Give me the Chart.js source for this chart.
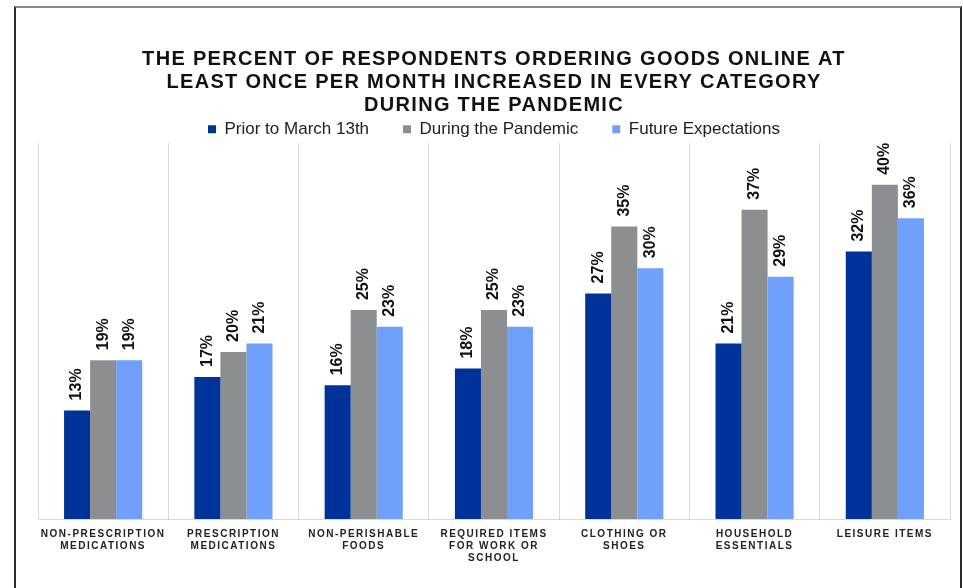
<!DOCTYPE html>
<html>
<head>
<meta charset="utf-8">
<script src="https://cdn.jsdelivr.net/npm/chart.js@4.4.0/dist/chart.umd.min.js"></script>
<style>
  html, body { margin: 0; padding: 0; background: #ffffff; width: 963px; height: 588px; overflow: hidden; }
  #frame { position: absolute; left: 14px; top: 6px; width: 944px; height: 700px;
           border-left: 2px solid #2b2b2b; border-right: 2px solid #2b2b2b; border-top: 2px solid #8a8a8a; }
  #c { position: absolute; left: 0; top: 0; }
</style>
</head>
<body>
<div id="frame"></div>
<canvas id="c" width="963" height="588"></canvas>
<script>
const categories = [
  ["NON-PRESCRIPTION", "MEDICATIONS"],
  ["PRESCRIPTION", "MEDICATIONS"],
  ["NON-PERISHABLE", "FOODS"],
  ["REQUIRED ITEMS", "FOR WORK OR", "SCHOOL"],
  ["CLOTHING OR", "SHOES"],
  ["HOUSEHOLD", "ESSENTIALS"],
  ["LEISURE ITEMS"]
];
const seriesNames = ["Prior to March 13th", "During the Pandemic", "Future Expectations"];
const priorValues = [13, 17, 16, 18, 27, 21, 32];
const duringValues = [19, 20, 25, 25, 35, 37, 40];
const futureValues = [19, 21, 23, 23, 30, 29, 36];
const titleLines = [
  "THE PERCENT OF RESPONDENTS ORDERING GOODS ONLINE AT",
  "LEAST ONCE PER MONTH INCREASED IN EVERY CATEGORY",
  "DURING THE PANDEMIC"
];
const colors = ["#003399", "#8c8f92", "#70a0fc"];

const spacingPlugin = {
  id: 'spacing',
  afterLayout(chart) {
    const wrap = (obj, name, sp) => {
      if (!obj || obj['__w_' + name]) return;
      const orig = obj[name];
      obj[name] = function (...args) {
        const c = chart.ctx;
        c.save();
        c.letterSpacing = sp;
        const r = orig.apply(this, args);
        c.restore();
        return r;
      };
      obj['__w_' + name] = true;
    };
    wrap(chart.titleBlock, 'draw', '1.3px');
    wrap(chart.scales.x, 'drawLabels', '1.5px');
  }
};

const valueLabels = {
  id: 'valueLabels',
  afterDatasetsDraw(chart) {
    const ctx = chart.ctx;
    ctx.save();
    ctx.font = 'bold 16px "Liberation Sans", Arial, sans-serif';
    ctx.fillStyle = '#111111';
    ctx.textAlign = 'left';
    ctx.textBaseline = 'middle';
    chart.data.datasets.forEach((ds, i) => {
      const meta = chart.getDatasetMeta(i);
      meta.data.forEach((bar, j) => {
        const v = ds.data[j];
        ctx.save();
        ctx.translate(bar.x, bar.y - 10);
        ctx.rotate(-Math.PI / 2);
        ctx.fillText(v + '%', 0, 0);
        ctx.restore();
      });
    });
    ctx.restore();
  }
};

new Chart(document.getElementById('c'), {
  type: 'bar',
  data: {
    labels: categories,
    datasets: [
      { label: seriesNames[0], data: priorValues, backgroundColor: colors[0] },
      { label: seriesNames[1], data: duringValues, backgroundColor: colors[1] },
      { label: seriesNames[2], data: futureValues, backgroundColor: colors[2] }
    ]
  },
  options: {
    responsive: false,
    animation: false,
    devicePixelRatio: 1,
    layout: { padding: { left: 38, right: 13, top: 0, bottom: 15 } },
    datasets: { bar: { categoryPercentage: 0.6, barPercentage: 1.0, borderWidth: 0 } },
    plugins: {
      title: {
        display: true,
        text: titleLines,
        color: '#111111',
        font: { family: '"Liberation Sans", Arial, sans-serif', size: 20, weight: 'bold', lineHeight: 1.15 },
        padding: { top: 47.5, bottom: -29.7 }
      },
      legend: {
        display: true,
        position: 'top',
        maxHeight: 56.2,
        labels: {
          color: '#222222',
          font: { family: '"Liberation Sans", Arial, sans-serif', size: 17, lineHeight: 1.2 },
          boxWidth: 8,
          boxHeight: 8,
          padding: 34
        }
      },
      tooltip: { enabled: false }
    },
    scales: {
      x: {
        grid: { display: true, offset: true, color: '#d9d9d9', lineWidth: 1, drawTicks: false },
        border: { display: true, color: '#d9d9d9', width: 1 },
        ticks: {
          color: '#222222',
          padding: 9,
          maxRotation: 0,
          autoSkip: false,
          font: { family: '"Liberation Sans", Arial, sans-serif', size: 10, weight: 'bold', lineHeight: 1.2 }
        }
      },
      y: {
        display: false,
        min: 0,
        max: 45
      }
    }
  },
  plugins: [spacingPlugin, valueLabels]
});
</script>
</body>
</html>
